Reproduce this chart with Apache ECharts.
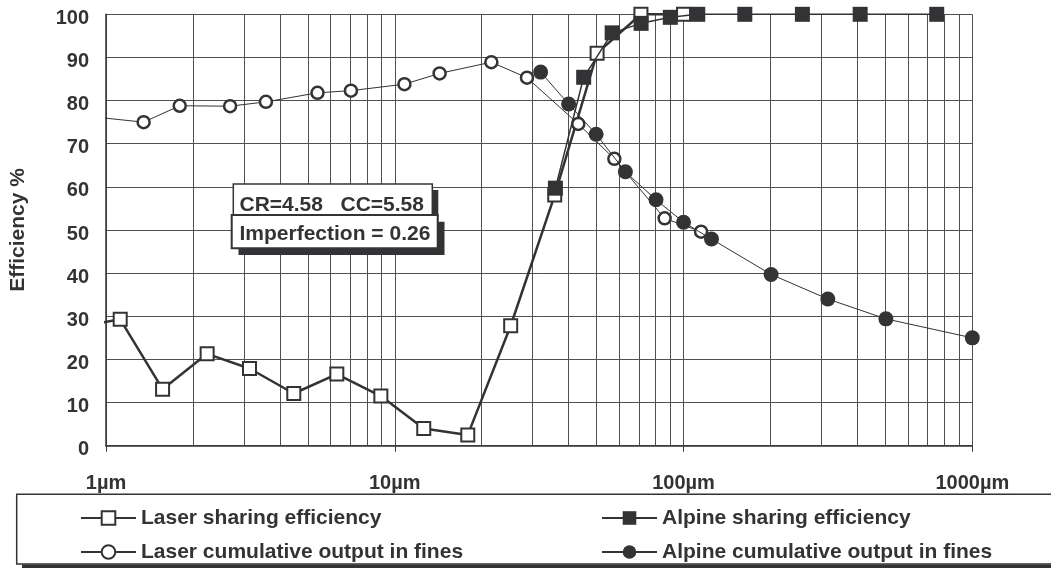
<!DOCTYPE html>
<html>
<head>
<meta charset="utf-8">
<script src="https://cdn.jsdelivr.net/npm/echarts@6/dist/echarts.min.js"></script>
<style>
  html, body { margin: 0; padding: 0; background: #ffffff; }
  #chart { width: 1051px; height: 568px; }
</style>
</head>
<body>
<div id="chart"></div>
<script>
// Particle size in µm (x) and efficiency in % (y) for each curve.
// The first point of the two laser curves sits just left of 1µm.
const laserShareSize = [0.94, 1.12, 1.57, 2.24, 3.14, 4.47, 6.3, 8.95, 12.6, 17.9, 25.2, 35.8, 50.2, 71.2, 100];
const laserShareEff  = [28.4, 29.3, 13.1, 21.3, 17.9, 12.1, 16.6, 11.5, 4.0, 2.5, 27.8, 58.1, 91.0, 100, 100];

const alpineShareSize = [36.0, 45.1, 56.6, 71.3, 90.0, 112, 163, 258, 409, 753];
const alpineShareEff  = [59.7, 85.4, 95.7, 97.9, 99.3, 100, 100, 100, 100, 100];

const laserCumSize = [0.94, 1.35, 1.80, 2.69, 3.58, 5.40, 7.05, 10.8, 14.3, 21.6, 28.7, 43.2, 57.6, 86.0, 115];
const laserCumEff  = [76.1, 75.0, 78.8, 78.7, 79.7, 81.8, 82.3, 83.8, 86.3, 88.9, 85.3, 74.6, 66.5, 52.7, 49.6];

const alpineCumSize = [32.0, 40.0, 49.8, 62.9, 80.3, 100, 125, 201, 316, 502, 1000];
const alpineCumEff  = [86.6, 79.2, 72.2, 63.5, 57.0, 51.8, 47.9, 39.7, 34.0, 29.4, 25.0];

const seriesNames = [
  'Laser sharing efficiency',
  'Alpine sharing efficiency',
  'Laser cumulative output in fines',
  'Alpine cumulative output in fines'
];

// Axis labelling
const xTickLabels = { 1: '1µm', 10: '10µm', 100: '100µm', 1000: '1000µm' };
const minorGridSizes = [2, 3, 4, 5, 6, 7, 8, 9, 20, 30, 40, 50, 60, 70, 80, 90, 200, 300, 400, 500, 600, 700, 800, 900];

const annotationLine1 = 'CR=4.58   CC=5.58';
const annotationLine2 = 'Imperfection = 0.26';

const FONT = '"Liberation Sans", Arial, Helvetica, sans-serif';
const INK = '#333336';
const GRID_INK = '#505050';

function points(xs, ys, hideFirst) {
  return xs.map((x, i) => {
    if (hideFirst && i === 0) return { value: [x, ys[i]], symbol: 'none' };
    return [x, ys[i]];
  });
}

const chart = echarts.init(document.getElementById('chart'), null, { renderer: 'canvas' });

const legendText = { color: INK, fontFamily: FONT, fontWeight: 'bold', fontSize: 21 };
const legendCommon = {
  orient: 'vertical',
  top: 507.5,
  height: 90,
  padding: 0,
  itemWidth: 55,
  itemHeight: 17,
  itemGap: 13,
  selectedMode: false,
  textStyle: legendText
};

chart.setOption({
  animation: false,
  backgroundColor: '#ffffff',
  grid: { left: 105, right: 78.7, top: 14.3, bottom: 122.3, containLabel: false },
  xAxis: {
    type: 'log',
    logBase: 10,
    min: 1,
    max: 1000,
    axisLine: { show: true, lineStyle: { color: INK, width: 1.5 } },
    axisTick: { show: true, length: 6, lineStyle: { color: INK, width: 1 } },
    axisLabel: {
      margin: 28,
      color: INK,
      fontFamily: FONT,
      fontWeight: 'bold',
      fontSize: 20,
      formatter: v => xTickLabels[Math.round(v)] || ''
    },
    splitLine: { show: true, lineStyle: { color: GRID_INK, width: 1 } }
  },
  yAxis: {
    type: 'value',
    min: 0,
    max: 100,
    interval: 10,
    name: 'Efficiency %',
    nameLocation: 'middle',
    nameGap: 77,
    nameTextStyle: { color: INK, fontFamily: FONT, fontWeight: 'bold', fontSize: 21 },
    axisLine: { show: true, lineStyle: { color: INK, width: 1.5 } },
    axisTick: { show: false },
    axisLabel: {
      margin: 17,
      color: INK,
      fontFamily: FONT,
      fontWeight: 'bold',
      fontSize: 20,
      verticalAlign: 'top',
      lineHeight: 8
    },
    splitLine: { show: true, lineStyle: { color: GRID_INK, width: 1 } }
  },
  legend: [
    Object.assign({ data: [seriesNames[0], seriesNames[2]], left: 80 }, legendCommon),
    Object.assign({ data: [seriesNames[1], seriesNames[3]], left: 601 }, legendCommon)
  ],
  graphic: [
    // legend frame with its drop shadow
    { type: 'rect', z: 0, silent: true, shape: { x: 22, y: 564.5, width: 1100, height: 10 }, style: { fill: INK } },
    { type: 'rect', z: 1, silent: true, shape: { x: 16.7, y: 494.3, width: 1100, height: 69.8 }, style: { fill: '#ffffff', stroke: INK, lineWidth: 1.5 } },
    // annotation boxes
    { type: 'rect', z: 20, silent: true, shape: { x: 239.3, y: 190, width: 199, height: 31 }, style: { fill: INK } },
    { type: 'rect', z: 21, silent: true, shape: { x: 233.3, y: 184, width: 199, height: 31 }, style: { fill: '#ffffff', stroke: INK, lineWidth: 1.5 } },
    { type: 'text', z: 22, silent: true, x: 239.5, y: 205, style: { text: annotationLine1, fill: INK, font: 'bold 21px ' + FONT, verticalAlign: 'middle', align: 'left' } },
    { type: 'rect', z: 23, silent: true, shape: { x: 238.5, y: 221.8, width: 206, height: 33.3 }, style: { fill: INK } },
    { type: 'rect', z: 24, silent: true, shape: { x: 231.7, y: 215, width: 206, height: 33.3 }, style: { fill: '#ffffff', stroke: INK, lineWidth: 2 } },
    { type: 'text', z: 25, silent: true, x: 239.5, y: 234.5, style: { text: annotationLine2, fill: INK, font: 'bold 21px ' + FONT, verticalAlign: 'middle', align: 'left' } }
  ],
  series: [
    {
      name: seriesNames[0],
      type: 'line',
      clip: false,
      z: 3,
      data: points(laserShareSize, laserShareEff, true),
      symbol: 'rect',
      symbolSize: 13,
      lineStyle: { color: INK, width: 2.5 },
      itemStyle: { color: '#ffffff', borderColor: INK, borderWidth: 2 },
      emphasis: { disabled: true },
      markLine: {
        z: 1,
        silent: true,
        animation: false,
        symbol: ['none', 'none'],
        label: { show: false },
        emphasis: { disabled: true },
        lineStyle: { color: GRID_INK, width: 1, type: 'solid' },
        data: minorGridSizes.map(v => ({ xAxis: v }))
      }
    },
    {
      name: seriesNames[1],
      type: 'line',
      clip: false,
      z: 4,
      data: points(alpineShareSize, alpineShareEff, false),
      symbol: 'rect',
      symbolSize: 15,
      lineStyle: { color: INK, width: 1.5 },
      itemStyle: { color: INK, borderColor: INK, borderWidth: 0 },
      emphasis: { disabled: true }
    },
    {
      name: seriesNames[2],
      type: 'line',
      clip: false,
      z: 5,
      data: points(laserCumSize, laserCumEff, true),
      symbol: 'circle',
      symbolSize: 12,
      lineStyle: { color: INK, width: 1 },
      itemStyle: { color: '#ffffff', borderColor: INK, borderWidth: 2.5 },
      emphasis: { disabled: true }
    },
    {
      name: seriesNames[3],
      type: 'line',
      clip: false,
      z: 6,
      data: points(alpineCumSize, alpineCumEff, false),
      symbol: 'circle',
      symbolSize: 15,
      lineStyle: { color: INK, width: 1 },
      itemStyle: { color: INK, borderColor: INK, borderWidth: 0 },
      emphasis: { disabled: true }
    }
  ]
});
</script>
</body>
</html>
